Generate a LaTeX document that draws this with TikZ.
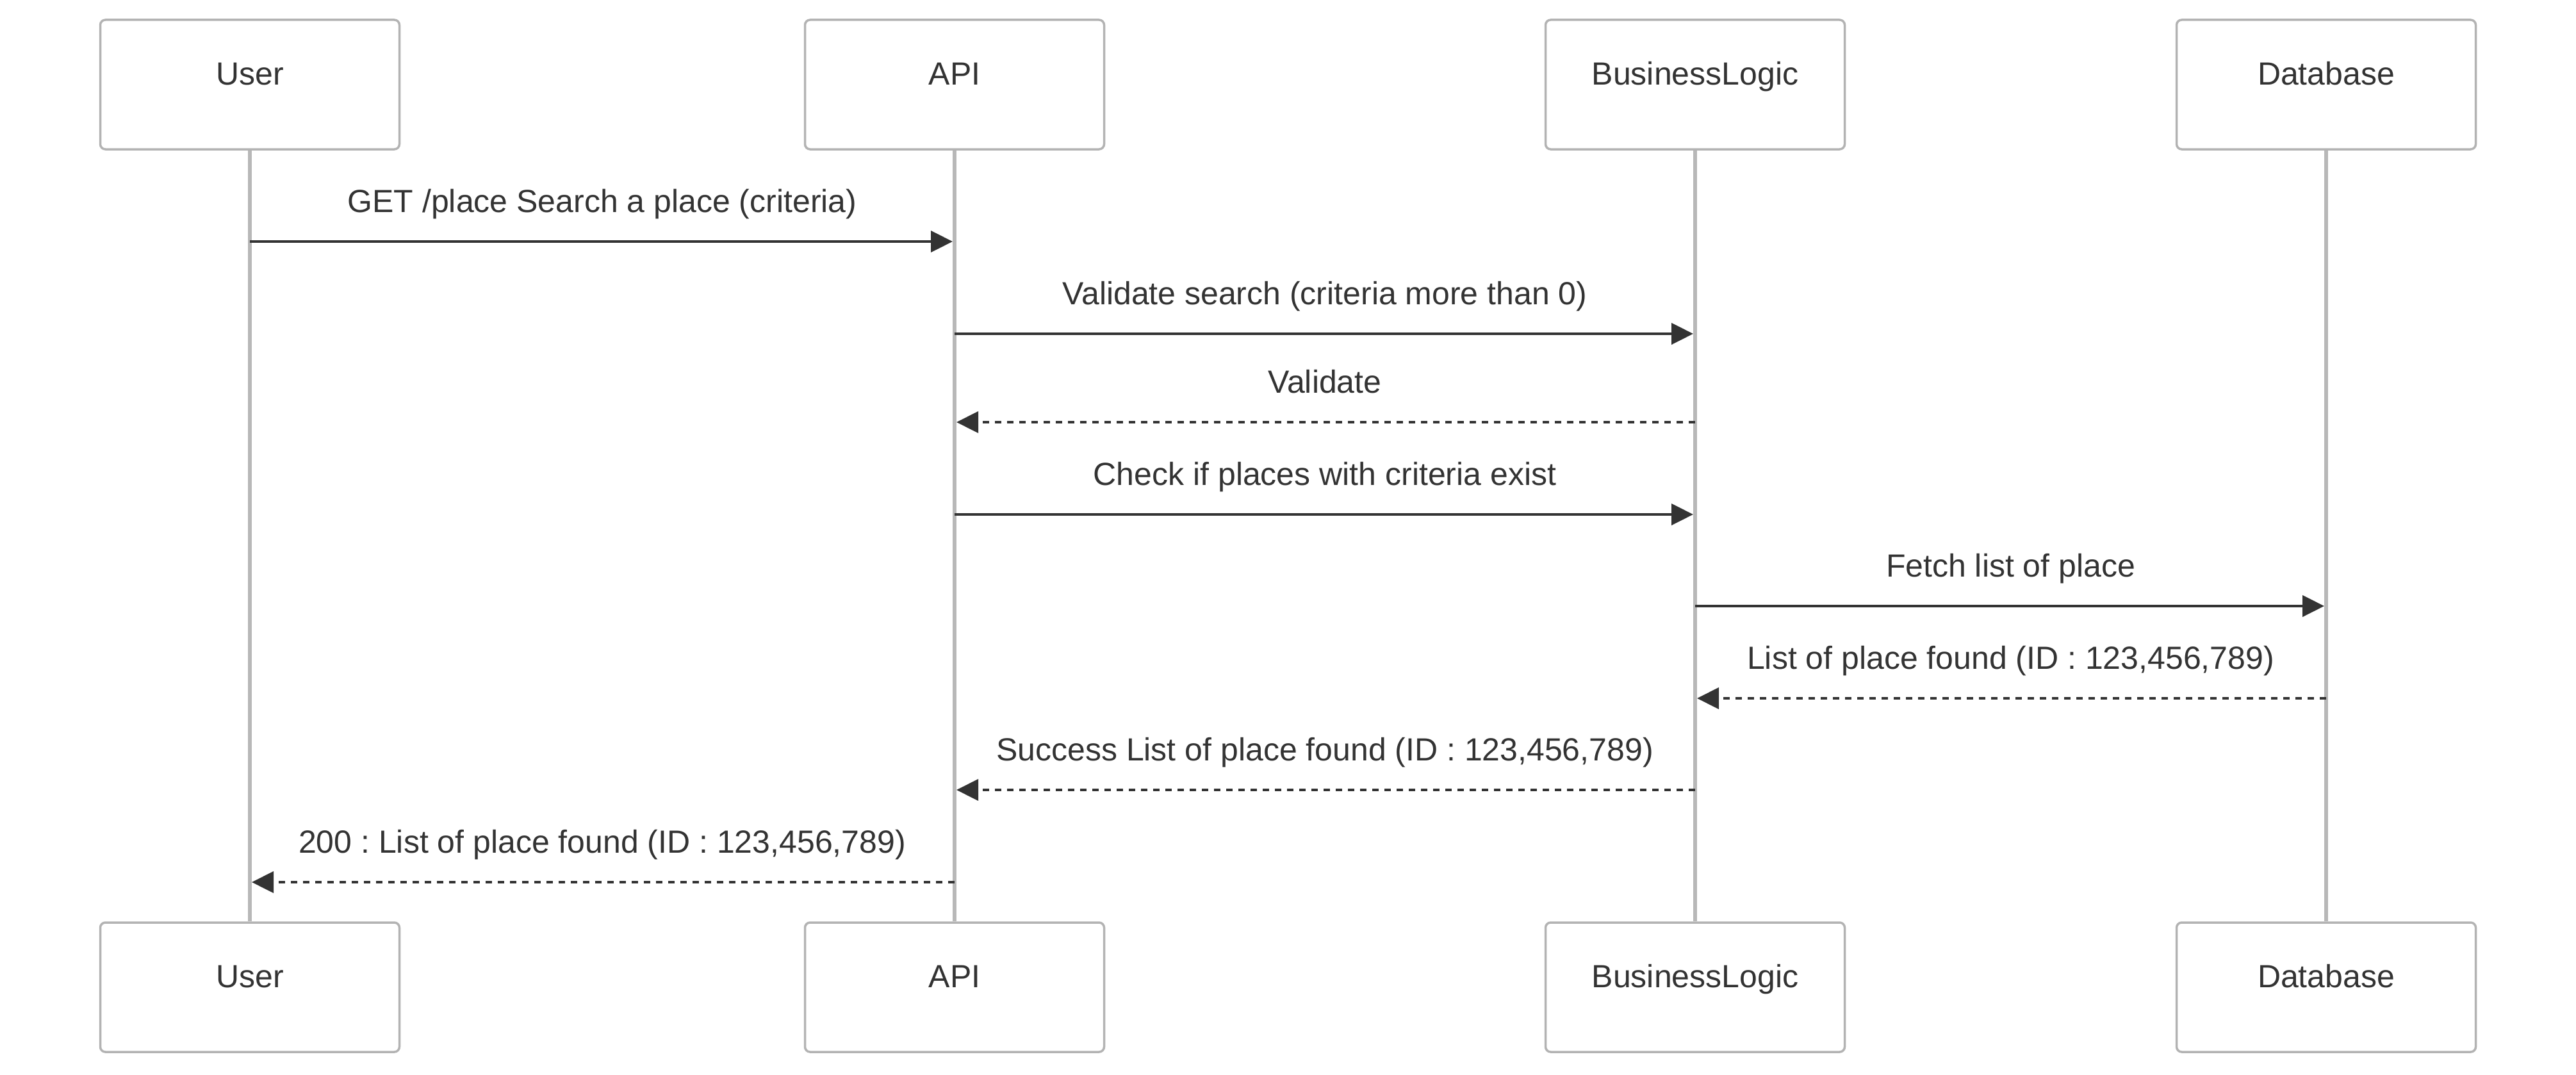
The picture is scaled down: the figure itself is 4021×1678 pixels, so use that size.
\documentclass[tikz,border=0pt]{standalone}
\usepackage{fontspec}
\setmainfont{Liberation Sans}
\frenchspacing
\usetikzlibrary{arrows.meta}
\definecolor{boxgray}{HTML}{B3B3B3}
\definecolor{lifegray}{HTML}{B8B8B8}
\definecolor{ink}{HTML}{333333}
\begin{document}
\begin{tikzpicture}[x=1pt,y=-1pt,
  actor/.style={draw=boxgray,line width=3.5pt,fill=white,rounded corners=8pt,
    minimum width=467pt,minimum height=202pt,inner sep=0pt},
  actortext/.style={anchor=base,text=ink,font=\fontsize{50}{60}\selectfont\frenchspacing},
  life/.style={draw=lifegray,line width=6pt},
  msg/.style={draw=ink,line width=4.5pt,shorten >=3pt,-{Triangle[length=34pt,width=33pt]}},
  reply/.style={msg,dash pattern=on 10pt off 9pt},
  msgtext/.style={anchor=base,text=ink,font=\fontsize{50}{60}\selectfont\frenchspacing,yshift=46pt}
]
\useasboundingbox (0,0) rectangle (4021,1678);
% actor boxes (top)
\node[actor] (ut) at (390,132) {};
\node[actor] (at) at (1490,132) {};
\node[actor] (bt) at (2646,132) {};
\node[actor] (dt) at (3631,132) {};
% actor boxes (bottom)
\node[actor] (ub) at (390,1541) {};
\node[actor] (ab) at (1490,1541) {};
\node[actor] (bb) at (2646,1541) {};
\node[actor] (db) at (3631,1541) {};
% lifelines
\draw[life] (ut.south) -- (ub.north);
\draw[life] (at.south) -- (ab.north);
\draw[life] (bt.south) -- (bb.north);
\draw[life] (dt.south) -- (db.north);
% actor texts
\foreach \n/\t in {ut/User,at/API,bt/BusinessLogic,dt/Database,ub/User,ab/API,bb/BusinessLogic,db/Database}
  \node[actortext] (\n-txt) at (\n.center) {\t};
% message levels
\coordinate (m1) at (0,377);
\coordinate (m2) at (0,521);
\coordinate (m3) at (0,659);
\coordinate (m4) at (0,803);
\coordinate (m5) at (0,946);
\coordinate (m6) at (0,1090);
\coordinate (m7) at (0,1233);
\coordinate (m8) at (0,1377);
% messages
\draw[msg] (ut |- m1) -- (at |- m1) node[msgtext,pos=0.5] (l1) {GET /place Search a place (criteria)};
\draw[msg] (at |- m2) -- (bt |- m2) node[msgtext,pos=0.5] (l2) {Validate search (criteria more than 0)};
\draw[reply] (bt |- m3) -- (at |- m3) node[msgtext,pos=0.5] (l3) {Validate};
\draw[msg] (at |- m4) -- (bt |- m4) node[msgtext,pos=0.5] (l4) {Check if places with criteria exist};
\draw[msg] (bt |- m5) -- (dt |- m5) node[msgtext,pos=0.5] (l5) {Fetch list of place};
\draw[reply] (dt |- m6) -- (bt |- m6) node[msgtext,pos=0.5] (l6) {List of place found (ID : 123,456,789)};
\draw[reply] (bt |- m7) -- (at |- m7) node[msgtext,pos=0.5] (l7) {Success List of place found (ID : 123,456,789)};
\draw[reply] (at |- m8) -- (ut |- m8) node[msgtext,pos=0.5] (l8) {200 : List of place found (ID : 123,456,789)};
\end{tikzpicture}
\end{document}
